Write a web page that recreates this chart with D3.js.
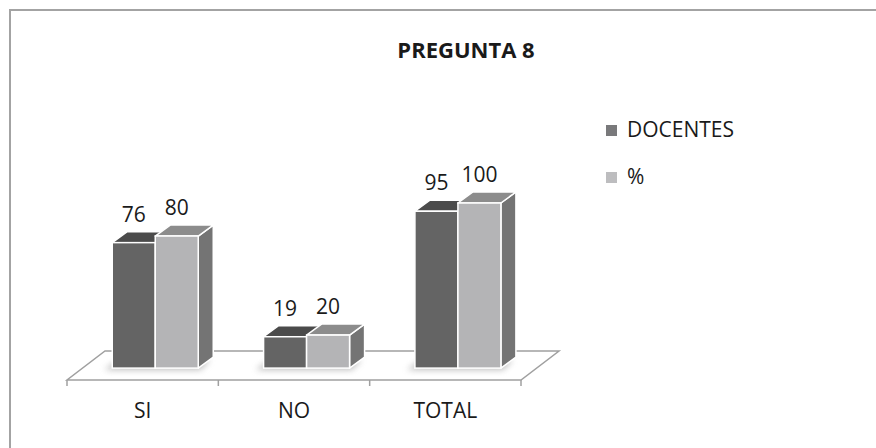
<!DOCTYPE html>
<html lang="es">
<head>
<meta charset="utf-8">
<script src="https://d3js.org/d3.v7.min.js"></script>
<style>
  html, body { margin: 0; background: #fff; overflow: hidden; }
  svg { display: block; font-family: "Open Sans", "Noto Sans", sans-serif; }
  .lbl { font-size: 21px; fill: #1a1a1a; }
</style>
</head>
<body>
<svg id="chart" width="876" height="448"></svg>
<script>
// datos del grafico
var categorias = ["SI", "NO", "TOTAL"];
var series = ["DOCENTES", "%"];
var docentes = [76, 19, 95];
var porcentaje = [80, 20, 100];
var titulo = "PREGUNTA 8";

var colores = {
  "DOCENTES": { front: "#646464", top: "#4b4b4b", side: "#555555", legend: "#79797b" },
  "%":        { front: "#b4b4b6", top: "#8c8c8c", side: "#747474", legend: "#bdbdbf" }
};

var svg = d3.select("#chart");

// marco (solo se ven los bordes superior e izquierdo)
svg.append("path")
  .attr("d", "M10,448 V10 H876")
  .attr("fill", "none")
  .attr("stroke", "#a3a3a3")
  .attr("stroke-width", 2);

svg.append("text")
  .attr("x", 466).attr("y", 58)
  .attr("text-anchor", "middle")
  .style("font-size", "22px")
  .style("font-weight", "bold")
  .attr("fill", "#1a1a1a")
  .text(titulo);

// geometria del piso 3d
var floorY = 380;
var depth = [38, -29];
var barDepth = [15, -11];
var frontT = 0.41;   // fraccion de profundidad del frente de las barras

var x = d3.scaleBand().domain(categorias).range([67, 521]);
var xs = d3.scaleBand().domain(series).range([0, 86]);
var y0 = floorY + depth[1] * frontT;
var y = d3.scaleLinear().domain([0, 100]).range([y0, 203]);

var defs = svg.append("defs");
defs.append("filter").attr("id", "sombra")
  .attr("x", "-50%").attr("y", "-50%").attr("width", "200%").attr("height", "200%")
  .append("feGaussianBlur").attr("stdDeviation", 3);

// piso
var x0 = x.range()[0], x1 = x.range()[1];
svg.append("polygon")
  .attr("points", [[x0, floorY], [x1, floorY], [x1 + depth[0], floorY + depth[1]], [x0 + depth[0], floorY + depth[1]]].join(" "))
  .attr("fill", "#fff")
  .attr("stroke", "#a0a0a0")
  .attr("stroke-width", 1.5);

// marcas del eje
var ticks = categorias.map(function(c) { return x(c); }).concat([x1]);
svg.selectAll("line.tick").data(ticks).enter().append("line")
  .attr("class", "tick")
  .attr("x1", function(d) { return d; }).attr("x2", function(d) { return d; })
  .attr("y1", floorY).attr("y2", floorY + 6)
  .attr("stroke", "#a0a0a0").attr("stroke-width", 1.5);

// etiquetas categorias
svg.selectAll("text.cat").data(categorias).enter().append("text")
  .attr("class", "lbl cat")
  .attr("x", function(d) { return x(d) + x.bandwidth() / 2; })
  .attr("y", 418)
  .attr("text-anchor", "middle")
  .text(function(d) { return d; });

var datos = [];
categorias.forEach(function(c, i) {
  datos.push({ cat: c, serie: "DOCENTES", v: docentes[i] });
  datos.push({ cat: c, serie: "%", v: porcentaje[i] });
});

function barX(d) {
  var off = (x.bandwidth() - xs.range()[1]) / 2 - 3;
  return x(d.cat) + off + depth[0] * frontT + xs(d.serie);
}

// sombras
categorias.forEach(function(c) {
  var bx = barX({ cat: c, serie: "DOCENTES" });
  svg.append("polygon")
    .attr("points", [[bx - 8, y0 + 2], [bx + 88, y0 + 2], [bx + 98, y0 - 8], [bx + 6, y0 - 8]].join(" "))
    .attr("fill", "#8a8a8a")
    .attr("opacity", 0.55)
    .attr("filter", "url(#sombra)");
});

var w = xs.bandwidth();
var g = svg.selectAll("g.bar").data(datos).enter().append("g").attr("class", "bar");

g.append("polygon") // lado
  .attr("points", function(d) {
    var bx = barX(d), yt = y(d.v);
    return [[bx + w, yt], [bx + w + barDepth[0], yt + barDepth[1]], [bx + w + barDepth[0], y0 + barDepth[1]], [bx + w, y0]].join(" ");
  })
  .attr("fill", function(d) { return colores[d.serie].side; })
  .attr("stroke", "#fff").attr("stroke-width", 1.5).attr("stroke-linejoin", "round");

g.append("polygon") // tapa
  .attr("points", function(d) {
    var bx = barX(d), yt = y(d.v);
    return [[bx, yt], [bx + w, yt], [bx + w + barDepth[0], yt + barDepth[1]], [bx + barDepth[0], yt + barDepth[1]]].join(" ");
  })
  .attr("fill", function(d) { return colores[d.serie].top; })
  .attr("stroke", "#fff").attr("stroke-width", 1.5).attr("stroke-linejoin", "round");

g.append("rect") // frente
  .attr("x", barX)
  .attr("y", function(d) { return y(d.v); })
  .attr("width", w)
  .attr("height", function(d) { return y0 - y(d.v); })
  .attr("fill", function(d) { return colores[d.serie].front; })
  .attr("stroke", "#fff").attr("stroke-width", 1.5);

// valores
svg.selectAll("text.val").data(datos).enter().append("text")
  .attr("class", "lbl val")
  .attr("x", function(d) { return barX(d) + w / 2; })
  .attr("y", function(d) { return y(d.v) - 21; })
  .attr("text-anchor", "middle")
  .text(function(d) { return d.v; });

// leyenda
var leg = svg.selectAll("g.leg").data(series).enter().append("g")
  .attr("class", "leg")
  .attr("transform", function(d, i) { return "translate(606," + (125 + i * 47) + ")"; });
leg.append("rect").attr("width", 11).attr("height", 11)
  .attr("fill", function(d) { return colores[d].legend; });
leg.append("text").attr("class", "lbl")
  .attr("x", 21).attr("y", 12)
  .text(function(d) { return d; });
</script>
</body>
</html>
